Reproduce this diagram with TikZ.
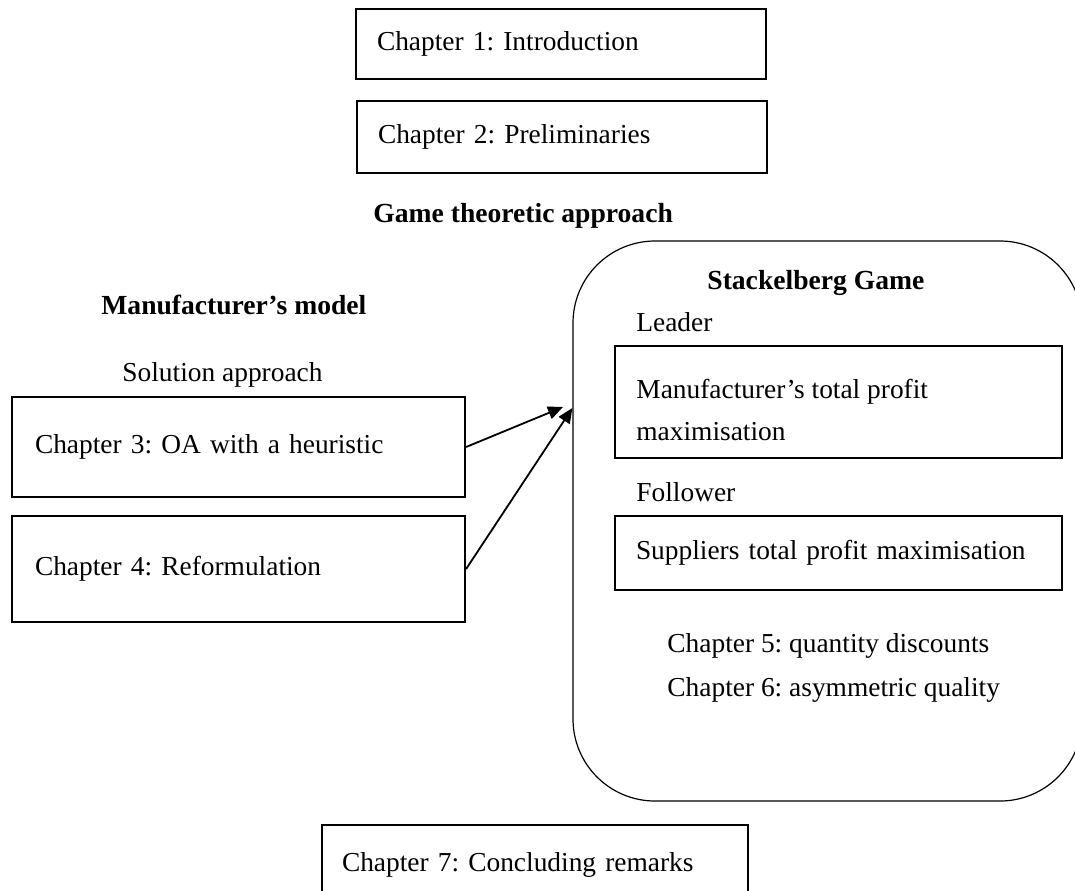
\documentclass[tikz,border=0pt]{standalone}
\usepackage{fontspec}
\setmainfont{Liberation Serif}
\usetikzlibrary{arrows.meta}

\tikzset{
  chapbox/.style={draw, line width=1.1pt, rectangle, inner xsep=0pt, inner ysep=0pt,
    font=\fontsize{13.7}{21}\selectfont, align=left},
  gamebox/.style={draw, line width=0.6pt, rectangle, rounded corners=41pt},
  heading/.style={font=\fontsize{13.8}{17}\selectfont\bfseries, inner sep=0pt},
  plain/.style={font=\fontsize{13.7}{21}\selectfont, inner sep=0pt},
  link/.style={line width=0.9pt, -{Triangle[length=7.5pt,width=6.5pt]}}
}

\begin{document}
\frenchspacing\hyphenpenalty=10000
\begin{tikzpicture}[x=0.5pt, y=-0.5pt]
\useasboundingbox (0,0) rectangle (1075,890);
\clip (0,0) rectangle (1075,890);

% introductory chapters
\node[chapbox, minimum width=205pt, minimum height=35pt, text width=184pt]
  (ch1) at (561,44) {Chapter 1: Introduction};
\node[chapbox, minimum width=205pt, minimum height=36pt, text width=184pt]
  (ch2) at (562,137) {Chapter 2: Preliminaries};

\node[heading, anchor=base west] (gta) at (373,222) {Game theoretic approach};

% Stackelberg game frame
\node[gamebox, minimum width=254.5pt, minimum height=280pt] (game) at (827.5,521) {};
\node[heading, anchor=base west] (sg) at (707,289) {Stackelberg Game};

\node[plain, anchor=base west] (lead) at (636,331) {Leader};
\node[chapbox, minimum width=223.5pt, minimum height=56pt] (leadbox) at (838.5,402) {};
\node[plain, anchor=base west, align=left] (leadtext) at (636,440)
  {Manufacturer’s total profit\\maximisation};

\node[plain, anchor=base west] (foll) at (636,501) {Follower};
\node[chapbox, minimum width=223.5pt, minimum height=37pt, text width=202.5pt]
  (follbox) at (838.5,553) {Suppliers total profit maximisation};

\node[plain, anchor=base west] (ch5) at (667,652) {Chapter 5: quantity discounts};
\node[plain, anchor=base west] (ch6) at (667,696) {Chapter 6: asymmetric quality};

% manufacturer's model
\node[heading, anchor=base west] (mm) at (101,314) {Manufacturer’s model};
\node[plain, anchor=base west] (sa) at (122,381) {Solution approach};

\node[chapbox, minimum width=226.5pt, minimum height=50pt, text width=203.5pt]
  (ch3) at (238.5,447) {Chapter 3: OA with a heuristic};
\node[chapbox, minimum width=226.5pt, minimum height=53pt, text width=203.5pt]
  (ch4) at (238.5,569) {Chapter 4: Reformulation};

% closing chapter
\node[chapbox, minimum width=213pt, minimum height=40pt, text width=193pt]
  (ch7) at (535,865) {Chapter 7: Concluding remarks};

% links into the game frame
\coordinate (tipA) at (563,407);
\coordinate (tipB) at (game.west |- 0,408);
\draw[link] (ch3.east) -- (tipA);
\draw[link] (ch4.east) -- (tipB);
\end{tikzpicture}
\end{document}
